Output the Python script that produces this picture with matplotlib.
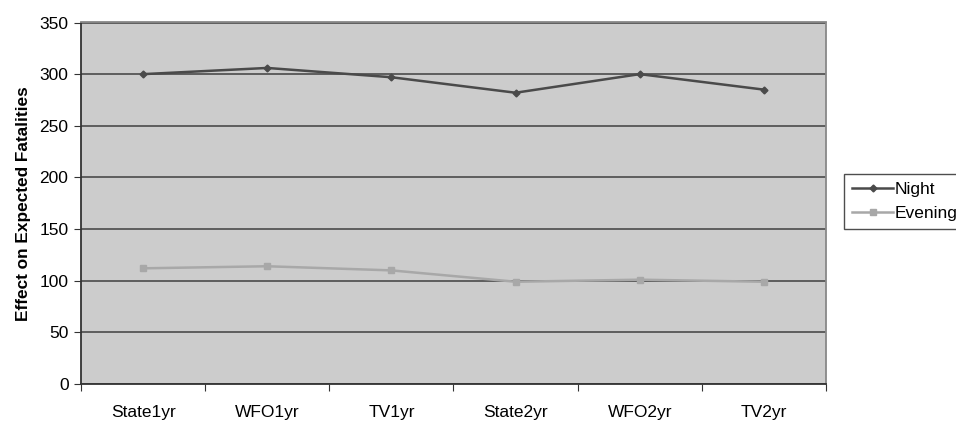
#!/usr/bin/env python3

import matplotlib

matplotlib.use("Agg")
import matplotlib.pyplot as plt
from matplotlib.ticker import FixedLocator

categories = ["State1yr", "WFO1yr", "TV1yr", "State2yr", "WFO2yr", "TV2yr"]
night = [300, 306, 297, 282, 300, 285]
evening = [112, 114, 110, 99, 101, 99]
y_ticks = [0, 50, 100, 150, 200, 250, 300, 350]

plt.rcParams["font.family"] = ["Liberation Sans", "DejaVu Sans"]

fig = plt.figure(figsize=(9.56, 4.23), dpi=100)
ax = fig.add_axes([81 / 956, 1 - 384 / 423, 745 / 956, (384 - 22.5) / 423])
ax.set_facecolor("#cccccc")

x = list(range(len(categories)))
ax.plot(x, night, color="#4a4a4a", linewidth=1.8, marker="D", markersize=3.5, label="Night", zorder=3)
ax.plot(x, evening, color="#a8a8a8", linewidth=1.8, marker="s", markersize=5, label="Evening", zorder=3)

ax.set_xlim(-0.5, len(categories) - 0.5)
ax.set_ylim(0, 350)
ax.set_yticks(y_ticks)
ax.yaxis.grid(True, color="#555555", linewidth=1.3)
ax.set_axisbelow(True)

# category boundaries carry the tick marks, labels sit in the middle
ax.xaxis.set_major_locator(FixedLocator([i - 0.5 for i in range(len(categories) + 1)]))
ax.xaxis.set_minor_locator(FixedLocator(x))
ax.set_xticklabels([])
ax.set_xticklabels(categories, minor=True)
ax.tick_params(axis="x", which="major", direction="out", length=5, color="#333333")
ax.tick_params(axis="x", which="minor", length=0, pad=15, labelsize=12.5)
ax.tick_params(axis="y", direction="out", length=5, color="#333333", labelsize=12.5, pad=4)

for side in ("left", "bottom"):
    ax.spines[side].set_color("#333333")
    ax.spines[side].set_linewidth(1.3)
for side in ("top", "right"):
    ax.spines[side].set_color("#888888")
    ax.spines[side].set_linewidth(1.3)

ax.set_ylabel("Effect on Expected Fatalities", fontsize=12.4, fontweight="bold", labelpad=6)

leg = fig.legend(loc="upper left", bbox_to_anchor=(844 / 956, 1 - 174 / 423), frameon=True,
                 fancybox=False, edgecolor="#222222", fontsize=12.5, handlelength=2.4,
                 handletextpad=0.05, borderpad=0.45, labelspacing=0.5, borderaxespad=0)
leg.get_frame().set_linewidth(1.0)

fig.savefig("out.png", dpi=100)
plt.close(fig)
